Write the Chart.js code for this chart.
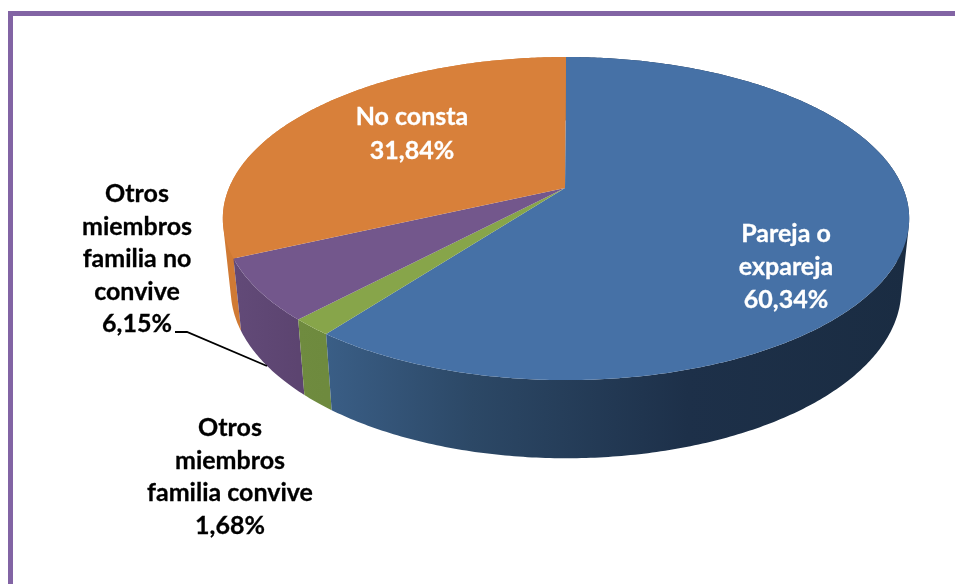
<!DOCTYPE html>
<html>
<head>
<meta charset="utf-8">
<title>Relación con el agresor</title>
<script src="https://cdn.jsdelivr.net/npm/chart.js@4"></script>
<style>
  html, body { margin:0; padding:0; background:#fff; overflow:hidden; }
  #wrap { position:relative; width:955px; height:584px; }
  #frame { position:absolute; left:8px; top:11px; right:-10px; bottom:-10px; border:5px solid #8264a4; }
  canvas { position:absolute; left:0; top:0; }
</style>
</head>
<body>
<div id="wrap">
  <div id="frame"></div>
  <canvas id="pie" width="955" height="584"></canvas>
</div>
<script>
/* data */
const categories = ['Pareja o expareja', 'Otros miembros familia convive', 'Otros miembros familia no convive', 'No consta'];
const values = [60.34, 1.68, 6.15, 31.84];
const valueLabels = ['60,34%', '1,68%', '6,15%', '31,84%'];

/* colours */
const topColors = ['#4671a6', '#87a54a', '#73578c', '#d8803a'];
const wallStops = [
  [[0, '#3a5e86'], [0.25, '#2c4866'], [0.62, '#1d3049'], [1, '#1a2c42']],
  [[0, '#6f8b3f'], [1, '#6e8a3e']],
  [[0, '#624a78'], [1, '#5c4470']],
  [[0, '#d07a34'], [1, '#d07a34']]
];

/* projection of the pie disc: perspective look from above */
const PIE = { cx:566, cy:188, apexX:565, rx:337, ry:155.8, persp:0.189 };
const WALL = { drop:69.5, stretchY:1.045, shrinkX:0.977 };

function project(angle, bottom){
  const u = Math.cos(angle), v = Math.sin(angle);
  const w = 1 - PIE.persp * v;
  let dx = PIE.rx * u / w, dy = PIE.ry * v / w;
  if(bottom){ dx *= WALL.shrinkX; dy = dy * WALL.stretchY + WALL.drop; }
  return [PIE.cx + dx, PIE.cy + dy];
}

function arcPoints(a0, a1, bottom){
  const pts = [], n = Math.max(2, Math.ceil((a1 - a0) * 90));
  for(let i=0;i<=n;i++) pts.push(project(a0 + (a1-a0)*i/n, bottom));
  return pts;
}

// adds one quad to the current path, always wound the same way so nonzero fill never cancels
function addQuad(ctx, q){
  let area = 0;
  q.forEach((p,i)=>{ const n = q[(i+1)%4]; area += p[0]*n[1] - n[0]*p[1]; });
  const pts = area < 0 ? q.slice().reverse() : q;
  pts.forEach((p,i)=> i ? ctx.lineTo(p[0],p[1]) : ctx.moveTo(p[0],p[1]));
  ctx.closePath();
}

/* labels: lines, centre x, first line middle y, colour */
const labelBlocks = [
  { lines:['Pareja o','expareja',valueLabels[0]], x:786, y:234, color:'#fff' },
  { lines:['Otros','miembros','familia convive',valueLabels[1]], x:230, y:428, color:'#000' },
  { lines:['Otros','miembros','familia no','convive',valueLabels[2]], x:137, y:194, color:'#000' },
  { lines:['No consta',valueLabels[3]], x:412, y:117, color:'#fff' }
];
const lineGap = [33, 32.7, 32.5, 34];

const pie3d = {
  id:'pie3d',
  beforeDatasetDraw(chart){
    const ctx = chart.ctx;
    const arcs = chart.getDatasetMeta(0).data;
    const colors = chart.data.datasets[0].backgroundColor;

    // walls, back slices first. quads between the rims so the silhouette joins both
    ctx.save();
    [3,2,1,0].forEach(i=>{
      const a = arcs[i];
      const top = arcPoints(a.startAngle, a.endAngle, false);
      const bot = arcPoints(a.startAngle, a.endAngle, true);
      const xs = top.filter(p=>p[1] > PIE.cy + 20).map(p=>p[0]);
      const x0 = xs.length ? Math.min(...xs) : 220, x1 = xs.length ? Math.max(...xs) : 910;
      const g = ctx.createLinearGradient(x0,0,x1,0);
      wallStops[i].forEach(s=>g.addColorStop(s[0],s[1]));
      ctx.fillStyle = g;
      ctx.beginPath();
      for(let k=0;k<top.length-1;k++){
        addQuad(ctx, [top[k], top[k+1], bot[k+1], bot[k]]);
      }
      ctx.fill('nonzero');
    });

    // top face
    arcs.forEach((a,i)=>{
      ctx.beginPath();
      ctx.moveTo(PIE.apexX, PIE.cy);
      arcPoints(a.startAngle, a.endAngle, false).forEach(p=>ctx.lineTo(p[0],p[1]));
      ctx.closePath();
      ctx.fillStyle = colors[i];
      ctx.fill();
    });

    // leader line for the 6,15% label
    ctx.beginPath();
    ctx.moveTo(175,332); ctx.lineTo(187,332); ctx.lineTo(267,366);
    ctx.strokeStyle = '#000';
    ctx.lineWidth = 1.8;
    ctx.stroke();

    // labels
    ctx.font = 'bold 25px Lato';
    ctx.textAlign = 'center';
    ctx.textBaseline = 'middle';
    ctx.lineWidth = 0.3;
    labelBlocks.forEach((b,i)=>{
      ctx.fillStyle = b.color;
      ctx.strokeStyle = b.color;
      b.lines.forEach((t,j)=>{
        ctx.fillText(t, b.x, b.y + j*lineGap[i]);
        ctx.strokeText(t, b.x, b.y + j*lineGap[i]);
      });
    });
    ctx.restore();
    return false; // the native flat arcs are replaced by the projected ones
  }
};

new Chart(document.getElementById('pie'), {
  type:'pie',
  data:{ labels:categories, datasets:[{ data:values, backgroundColor:topColors, borderWidth:0 }] },
  options:{
    responsive:false,
    animation:false,
    plugins:{ legend:{ display:false }, tooltip:{ enabled:false } }
  },
  plugins:[pie3d]
});
</script>
</body>
</html>
